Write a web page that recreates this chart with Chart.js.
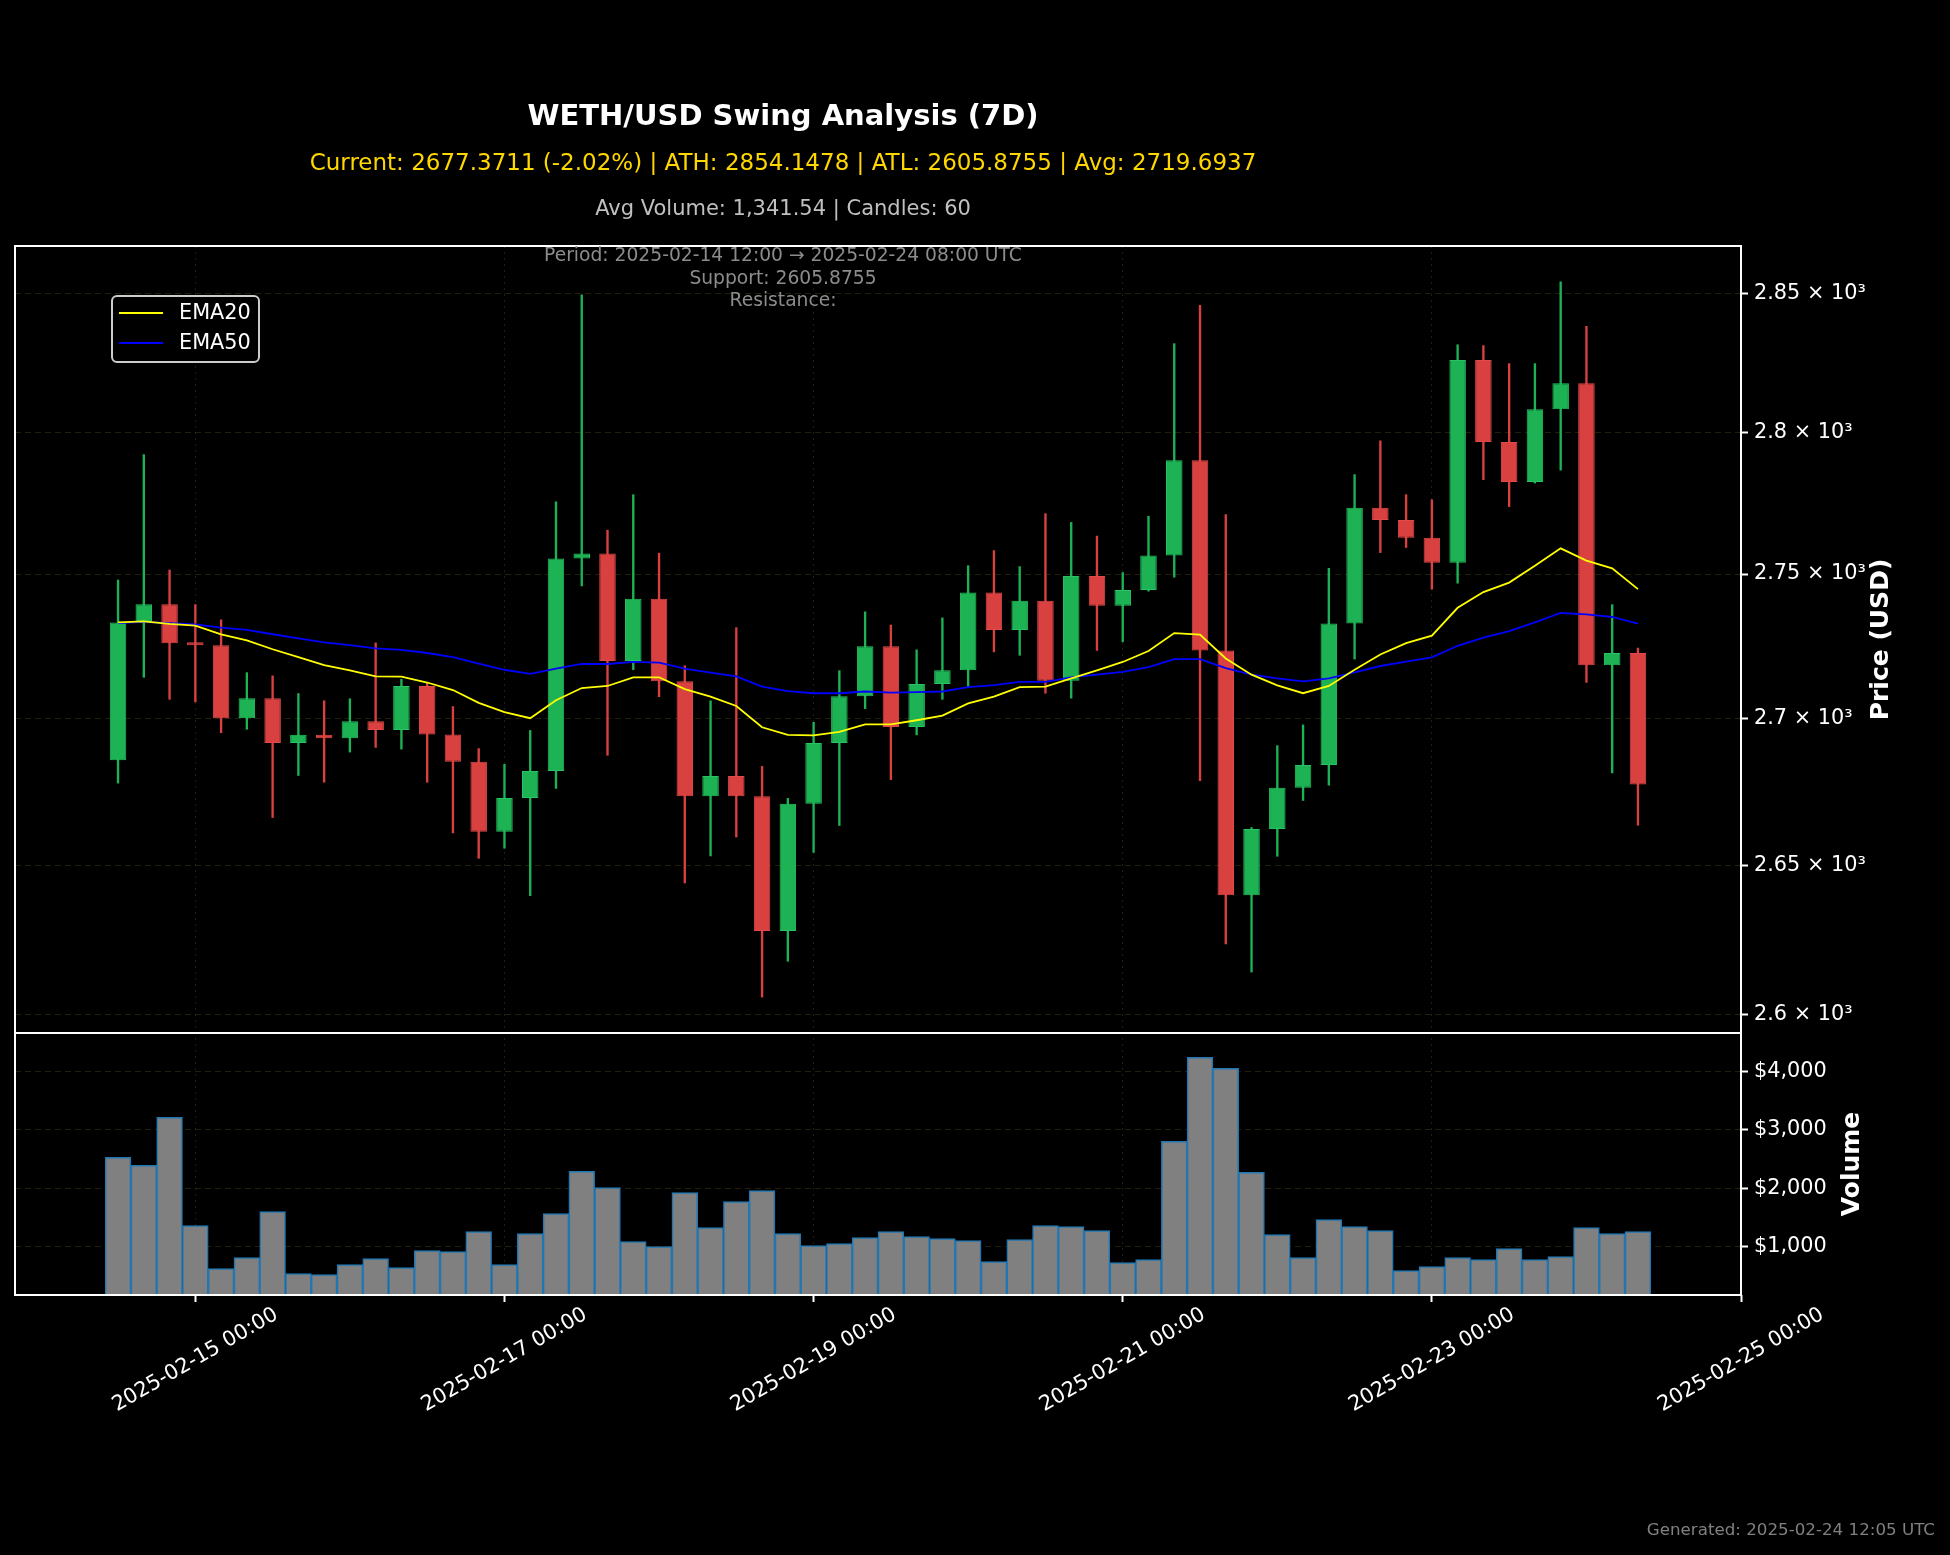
<!DOCTYPE html>
<html>
<head>
<meta charset="utf-8">
<script src="https://cdn.jsdelivr.net/npm/chart.js@4.4.1/dist/chart.umd.min.js"></script>
<style>
html,body{margin:0;padding:0;background:#000;}
canvas{display:block;}
</style>
</head>
<body>
<canvas id="c" width="1950" height="1555" style="width:1950px;height:1555px"></canvas>
<script>
// ---------------- DATA ----------------
const candleTimes = [
'2025-02-14 12:00','2025-02-14 16:00','2025-02-14 20:00',
'2025-02-15 00:00','2025-02-15 04:00','2025-02-15 08:00','2025-02-15 12:00','2025-02-15 16:00','2025-02-15 20:00',
'2025-02-16 00:00','2025-02-16 04:00','2025-02-16 08:00','2025-02-16 12:00','2025-02-16 16:00','2025-02-16 20:00',
'2025-02-17 00:00','2025-02-17 04:00','2025-02-17 08:00','2025-02-17 12:00','2025-02-17 16:00','2025-02-17 20:00',
'2025-02-18 00:00','2025-02-18 04:00','2025-02-18 08:00','2025-02-18 12:00','2025-02-18 16:00','2025-02-18 20:00',
'2025-02-19 00:00','2025-02-19 04:00','2025-02-19 08:00','2025-02-19 12:00','2025-02-19 16:00','2025-02-19 20:00',
'2025-02-20 00:00','2025-02-20 04:00','2025-02-20 08:00','2025-02-20 12:00','2025-02-20 16:00','2025-02-20 20:00',
'2025-02-21 00:00','2025-02-21 04:00','2025-02-21 08:00','2025-02-21 12:00','2025-02-21 16:00','2025-02-21 20:00',
'2025-02-22 00:00','2025-02-22 04:00','2025-02-22 08:00','2025-02-22 12:00','2025-02-22 16:00','2025-02-22 20:00',
'2025-02-23 00:00','2025-02-23 04:00','2025-02-23 08:00','2025-02-23 12:00','2025-02-23 16:00','2025-02-23 20:00',
'2025-02-24 00:00','2025-02-24 04:00','2025-02-24 08:00'
];

const openPrices = [
2685.6,2733.3,2739.4,2725.9,2725.2,2700.0,2706.9,2691.5,2694.3,2693.1,
2699.0,2696.0,2711.1,2694.4,2685.1,2661.3,2672.7,2681.9,2755.4,2757.2,
2719.7,2741.4,2712.7,2673.3,2680.2,2673.3,2627.9,2670.8,2691.5,2707.6,
2724.8,2697.0,2711.8,2716.5,2743.5,2730.5,2740.7,2712.9,2749.3,2738.9,
2744.4,2756.5,2790.1,2723.4,2639.9,2662.2,2676.2,2684.0,2732.7,2773.3,
2769.0,2762.7,2753.9,2825.9,2796.6,2782.4,2808.3,2817.6,2718.3,2722.5];

const highPrices = [
2747.9,2792.1,2751.4,2739.3,2734.0,2715.7,2714.6,2708.5,2706.0,2706.7,
2726.0,2713.4,2712.3,2704.0,2689.6,2684.2,2695.8,2775.4,2849.4,2765.4,
2777.9,2757.3,2718.1,2706.0,2731.3,2683.5,2672.6,2698.6,2716.4,2736.8,
2732.2,2723.6,2734.7,2752.9,2758.2,2752.6,2771.2,2768.1,2763.3,2750.5,
2770.3,2831.8,2845.6,2770.9,2662.7,2690.6,2697.7,2752.0,2785.0,2797.0,
2777.9,2776.1,2831.4,2831.1,2824.6,2824.6,2854.15,2838.0,2739.3,2724.2];

const lowPrices = [
2677.8,2714.1,2706.5,2705.6,2695.0,2696.2,2666.1,2680.4,2678.1,2688.4,
2690.0,2689.4,2678.1,2660.9,2652.3,2655.7,2639.7,2676.0,2745.8,2687.3,
2716.7,2707.4,2644.0,2653.1,2659.5,2605.88,2617.8,2654.3,2663.4,2703.3,
2679.0,2694.3,2706.5,2710.9,2722.9,2721.7,2708.6,2706.9,2723.4,2726.4,
2744.0,2748.9,2678.6,2623.6,2614.2,2653.0,2671.9,2677.1,2720.4,2757.5,
2759.3,2744.7,2746.8,2783.2,2773.7,2782.0,2786.6,2712.3,2681.3,2663.5];

const closePrices = [
2733.1,2739.4,2725.9,2725.2,2700.0,2706.9,2691.5,2694.3,2693.1,2699.0,
2696.0,2711.1,2694.4,2685.1,2661.3,2672.7,2681.9,2755.4,2757.2,2719.7,
2741.4,2712.7,2673.3,2680.2,2673.3,2627.9,2670.8,2691.5,2707.6,2724.8,
2697.0,2711.8,2716.5,2743.5,2730.5,2740.7,2712.9,2749.3,2738.9,2744.4,
2756.5,2790.1,2723.4,2639.9,2662.2,2676.2,2684.0,2732.7,2773.3,2769.0,
2762.7,2753.9,2825.9,2796.6,2782.4,2808.3,2817.6,2718.3,2722.5,2677.37];

const ema20 = [
2733.1,2733.5,2732.6,2732.0,2729.0,2726.9,2723.8,2721.1,2718.3,2716.5,
2714.4,2714.3,2712.3,2709.7,2705.3,2702.1,2700.0,2706.2,2710.4,2711.1,
2714.1,2714.1,2710.0,2707.4,2704.2,2696.9,2694.3,2694.1,2695.3,2697.9,
2697.9,2699.3,2700.9,2705.1,2707.4,2710.7,2710.9,2713.7,2716.5,2719.4,
2723.2,2729.4,2728.9,2720.6,2715.0,2711.3,2708.6,2711.1,2716.7,2722.0,
2725.9,2728.5,2738.2,2743.7,2747.0,2752.9,2759.0,2754.7,2752.0,2744.7];

const ema50 = [
2732.9,2733.3,2732.9,2732.4,2731.3,2730.5,2729.0,2727.6,2726.2,2725.2,
2724.1,2723.6,2722.5,2721.1,2718.8,2716.7,2715.3,2717.1,2718.7,2718.7,
2719.4,2719.2,2717.1,2715.7,2714.4,2710.9,2709.3,2708.6,2708.6,2709.2,
2708.8,2709.0,2709.2,2710.7,2711.4,2712.5,2712.5,2714.1,2715.0,2716.0,
2717.6,2720.4,2720.4,2717.3,2715.0,2713.7,2712.7,2713.7,2715.8,2718.0,
2719.5,2721.0,2725.0,2727.8,2730.1,2733.1,2736.4,2735.9,2735.0,2732.7];

const volumes = [
2526,2389,3211,1360,623,811,1600,537,520,691,
794,640,931,914,1257,691,1223,1566,2286,2011,
1086,1000,1926,1326,1771,1960,1223,1017,1051,1154,
1257,1171,1137,1103,743,1120,1360,1343,1274,726,
777,2800,4240,4051,2269,1206,811,1463,1343,1274,
589,657,811,777,966,777,829,1326,1223,1257];

const priceTicks = [2600, 2650, 2700, 2750, 2800, 2850];
const priceTickLabels = ['2.6 × 10³','2.65 × 10³','2.7 × 10³','2.75 × 10³','2.8 × 10³','2.85 × 10³'];
const volumeTicks = [1000, 2000, 3000, 4000];
const volumeTickLabels = ['$1,000','$2,000','$3,000','$4,000'];
const xTickLabels = ['2025-02-15 00:00','2025-02-17 00:00','2025-02-19 00:00','2025-02-21 00:00','2025-02-23 00:00','2025-02-25 00:00'];
const xRange = ['2025-02-13 20:00', '2025-02-25 00:00'];
const priceRange = [2594.0, 2867.2];
const volumeRange = [170, 4657];

const titleText = 'WETH/USD Swing Analysis (7D)';
const statsText = 'Current: 2677.3711 (-2.02%) | ATH: 2854.1478 | ATL: 2605.8755 | Avg: 2719.6937';
const infoText = 'Avg Volume: 1,341.54 | Candles: 60';
const annotationLines = ['Period: 2025-02-14 12:00 → 2025-02-24 08:00 UTC', 'Support: 2605.8755', 'Resistance:'];
const footerText = 'Generated: 2025-02-24 12:05 UTC';
const priceAxisTitle = 'Price (USD)';
const volumeAxisTitle = 'Volume';

// ---------------- HELPERS ----------------
function hoursOf(s) {
  const day = parseInt(s.slice(8, 10), 10);
  const hr = parseInt(s.slice(11, 13), 10);
  const mn = parseInt(s.slice(14, 16), 10);
  return (day - 14) * 24 + hr + mn / 60;
}
const FONT = '"DejaVu Sans", "Liberation Sans", sans-serif';
const GREEN = '#1db355', GREEN_EDGE = '#27c462';
const RED = '#d94141', RED_EDGE = '#e24a4a';
const GRID = 'rgba(110,95,30,0.32)';

const times = candleTimes.map(hoursOf);
const isUp = closePrices.map((c, i) => c >= openPrices[i]);

const bodyData = times.map((t, i) => ({x: t, y: [openPrices[i], closePrices[i]]}));
const wickData = times.map((t, i) => ({x: t, y: [lowPrices[i], highPrices[i]]}));
const volData = times.map((t, i) => ({x: t, y: volumes[i]}));
const ema20Data = times.map((t, i) => ({x: t, y: ema20[i]}));
const ema50Data = times.map((t, i) => ({x: t, y: ema50[i]}));

// ---------------- DECORATION PLUGIN ----------------
const decor = {
  id: 'decor',
  beforeDraw(chart) {
    const ctx = chart.ctx;
    ctx.save();
    ctx.fillStyle = '#000';
    ctx.fillRect(0, 0, chart.width, chart.height);
    ctx.restore();
  },
  afterDraw(chart) {
    const {ctx, chartArea: a, scales} = chart;
    const yP = scales.y, yV = scales.yVol, xs = scales.x;
    ctx.save();

    // panel frames
    ctx.strokeStyle = '#ffffff';
    ctx.lineWidth = 2;
    ctx.strokeRect(a.left, yP.top, a.right - a.left, yP.bottom - yP.top);
    ctx.strokeRect(a.left, yV.top, a.right - a.left, yV.bottom - yV.top);

    // header texts
    const cx = 783;
    ctx.textAlign = 'center';
    ctx.textBaseline = 'middle';
    ctx.fillStyle = '#ffffff';
    ctx.font = 'bold 29px ' + FONT;
    ctx.fillText(titleText, cx, 117);
    ctx.fillStyle = '#FFD700';
    ctx.font = '23px ' + FONT;
    ctx.fillText(statsText, cx, 164);
    ctx.fillStyle = '#c0c0c0';
    ctx.font = '21px ' + FONT;
    ctx.fillText(infoText, cx, 210);

    // in-plot annotation
    ctx.fillStyle = '#8c8c8c';
    ctx.font = '18.7px ' + FONT;
    annotationLines.forEach((ln, i) => ctx.fillText(ln, cx, 256 + i * 22.8));

    // legend
    const lx = 112, ly = 296, lw = 147, lh = 66;
    ctx.fillStyle = 'rgba(0,0,0,0.8)';
    ctx.strokeStyle = '#cccccc';
    ctx.lineWidth = 2;
    ctx.beginPath();
    ctx.roundRect(lx, ly, lw, lh, 5);
    ctx.fill();
    ctx.stroke();
    const legendSets = chart.data.datasets.filter(d => d.type === 'line');
    legendSets.forEach((d, i) => {
      const yy = 313 + i * 30;
      ctx.strokeStyle = d.borderColor;
      ctx.lineWidth = 2;
      ctx.beginPath();
      ctx.moveTo(119, yy);
      ctx.lineTo(163, yy);
      ctx.stroke();
      ctx.fillStyle = '#ffffff';
      ctx.font = '20.8px ' + FONT;
      ctx.textAlign = 'left';
      ctx.fillText(d.label, 179, yy + 1);
    });

    // x tick labels (rotated 30deg, centered on tick)
    ctx.fillStyle = '#ffffff';
    ctx.font = '20.8px ' + FONT;
    ctx.textAlign = 'center';
    ctx.textBaseline = 'middle';
    xTickLabels.forEach(lbl => {
      const px = xs.getPixelForValue(hoursOf(lbl));
      ctx.save();
      ctx.translate(px, 1360);
      ctx.rotate(-Math.PI / 6);
      ctx.fillText(lbl, 0, 0);
      ctx.restore();
    });

    // axis titles
    ctx.font = 'bold 25px ' + FONT;
    ctx.save();
    ctx.translate(1881, (yP.top + yP.bottom) / 2);
    ctx.rotate(-Math.PI / 2);
    ctx.fillText(priceAxisTitle, 0, 0);
    ctx.restore();
    ctx.save();
    ctx.translate(1852, (yV.top + yV.bottom) / 2);
    ctx.rotate(-Math.PI / 2);
    ctx.fillText(volumeAxisTitle, 0, 0);
    ctx.restore();

    // footer
    ctx.fillStyle = '#808080';
    ctx.font = '16.7px ' + FONT;
    ctx.textAlign = 'right';
    ctx.fillText(footerText, 1935, 1531);

    ctx.restore();
  }
};

// ---------------- CHART ----------------
const AXIS_W = 209;
new Chart(document.getElementById('c'), {
  type: 'bar',
  data: {
    datasets: [
      {
        type: 'line', label: 'EMA20', data: ema20Data, yAxisID: 'y',
        borderColor: '#ffff00', borderWidth: 1.8, pointRadius: 0, tension: 0, order: 0
      },
      {
        type: 'line', label: 'EMA50', data: ema50Data, yAxisID: 'y',
        borderColor: '#0000ff', borderWidth: 1.8, pointRadius: 0, tension: 0, order: 1
      },
      {
        type: 'bar', label: 'Body', data: bodyData, yAxisID: 'y', grouped: false,
        backgroundColor: isUp.map(u => u ? GREEN : RED),
        borderColor: isUp.map(u => u ? GREEN_EDGE : RED_EDGE),
        borderWidth: 1, borderSkipped: false, minBarLength: 3,
        barPercentage: 0.64, categoryPercentage: 1, order: 2
      },
      {
        type: 'bar', label: 'Wick', data: wickData, yAxisID: 'y', grouped: false,
        backgroundColor: isUp.map(u => u ? GREEN : RED),
        borderWidth: 0, barThickness: 1.7, order: 3
      },
      {
        type: 'bar', label: 'Volume', data: volData, yAxisID: 'yVol', grouped: false,
        backgroundColor: '#808080', borderColor: '#1f77b4', borderWidth: 1.5,
        barPercentage: 1, categoryPercentage: 1, order: 4
      }
    ]
  },
  options: {
    responsive: false,
    animation: false,
    devicePixelRatio: 1,
    layout: {padding: {left: 15, top: 246, right: 0, bottom: 0}},
    plugins: {legend: {display: false}, tooltip: {enabled: false}, title: {display: false}},
    scales: {
      x: {
        type: 'linear', position: 'bottom', offset: false,
        min: hoursOf(xRange[0]), max: hoursOf(xRange[1]),
        afterBuildTicks: s => { s.ticks = xTickLabels.map(l => ({value: hoursOf(l)})); },
        afterFit: s => { s.height = 260; },
        ticks: {display: false},
        grid: {offset: false, color: GRID, lineWidth: 1, drawTicks: true, tickLength: 7, tickColor: '#ffffff', tickWidth: 2},
        border: {display: false, dash: [2, 4]}
      },
      y: {
        type: 'logarithmic', position: 'right', stack: 'panels', stackWeight: 787,
        min: priceRange[0], max: priceRange[1],
        afterBuildTicks: s => { s.ticks = priceTicks.map(v => ({value: v})); },
        afterFit: s => { s.width = AXIS_W; },
        ticks: {
          color: '#ffffff', font: {family: FONT, size: 20.8}, padding: 6,
          callback: v => priceTickLabels[priceTicks.indexOf(v)]
        },
        grid: {color: GRID, lineWidth: 1, drawTicks: true, tickLength: 7, tickColor: '#ffffff', tickWidth: 2},
        border: {display: false, dash: [6, 4]}
      },
      yVol: {
        type: 'linear', position: 'right', stack: 'panels', stackWeight: 262,
        min: volumeRange[0], max: volumeRange[1],
        afterBuildTicks: s => { s.ticks = volumeTicks.map(v => ({value: v})); },
        afterFit: s => { s.width = AXIS_W; },
        ticks: {
          color: '#ffffff', font: {family: FONT, size: 20.8}, padding: 6,
          callback: v => volumeTickLabels[volumeTicks.indexOf(v)]
        },
        grid: {color: GRID, lineWidth: 1, drawTicks: true, tickLength: 7, tickColor: '#ffffff', tickWidth: 2},
        border: {display: false, dash: [6, 4]}
      }
    }
  },
  plugins: [decor]
});
</script>
</body>
</html>
